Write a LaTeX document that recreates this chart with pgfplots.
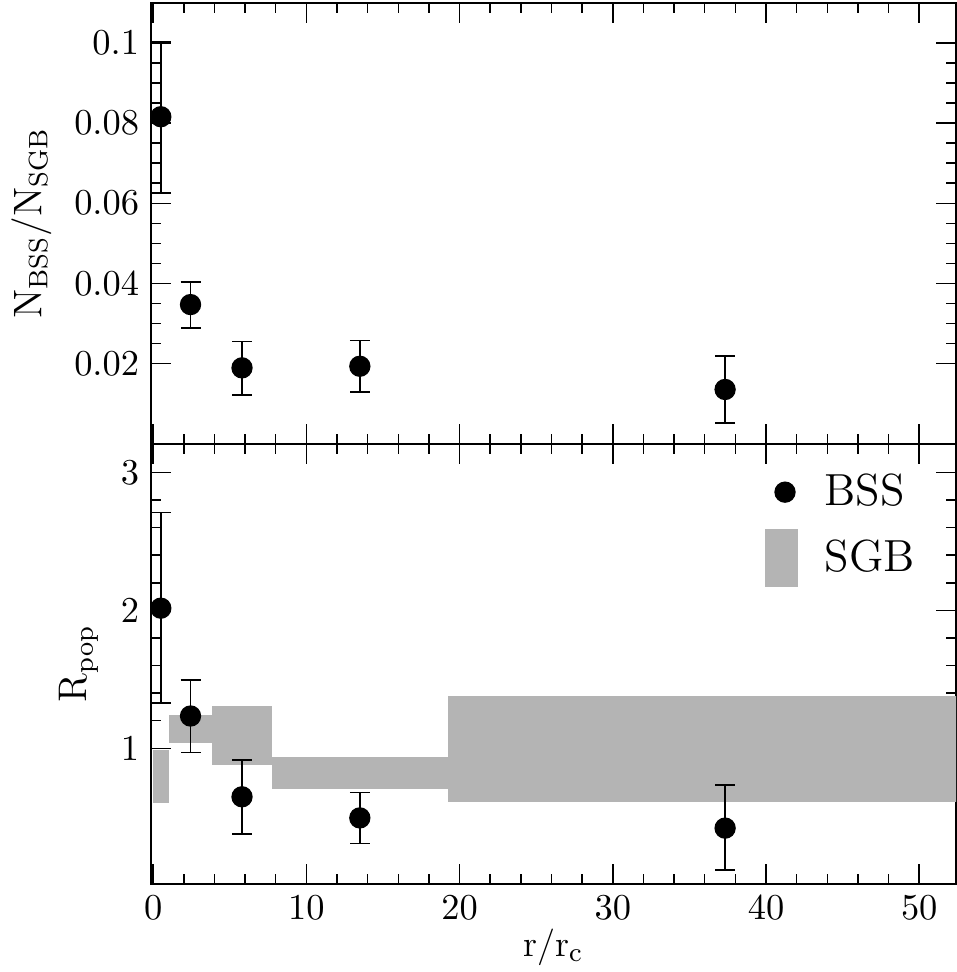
\documentclass[border=0pt]{standalone}
\usepackage{pgfplots}
\usepackage{pgfplotstable}
\pgfplotsset{compat=1.18}
\definecolor{sgb}{RGB}{180,180,180}

% N_BSS/N_SGB per radial bin
\pgfplotstableread{
x     y      ep     em
0.50  0.0816 0.0188 0.0190
2.44  0.0347 0.0056 0.0058
5.80  0.0189 0.0066 0.0068
13.49 0.0193 0.0064 0.0064
37.33 0.0135 0.0083 0.0084
}\ratiodata

% double normalized ratio R_pop for BSS
\pgfplotstableread{
x     y     ep    em
0.50  2.016 0.694 0.686
2.44  1.234 0.263 0.265
5.80  0.648 0.267 0.271
13.49 0.495 0.184 0.185
37.33 0.421 0.311 0.304
}\rpopdata

\pgfplotsset{
  panel/.style={
    width=241.8pt, height=132.3pt, scale only axis,
    xmin=-0.15, xmax=52.4,
    xtick={0,10,20,30,40,50}, minor x tick num=4,
    tick pos=both, tick align=inside,
    major tick length=6pt, minor tick length=3pt,
    axis line style={line width=0.6pt},
    every tick/.style={black, line width=0.45pt},
    tick label style={font=\fontsize{10.5}{12}\selectfont},
    label style={font=\fontsize{12}{14}\selectfont},
  },
  bss/.style={
    only marks, mark=*, mark size=3pt, black,
    error bars/y dir=both, error bars/y explicit,
    error bars/error bar style={line width=0.45pt, black},
    error bars/error mark options={rotate=90, mark size=3pt, line width=0.45pt, black},
  },
}

\begin{document}
\begin{tikzpicture}
\begin{axis}[panel, name=top,
    ymin=0, ymax=0.11,
    ytick={0.02,0.04,0.06,0.08,0.1}, minor y tick num=3,
    yticklabel style={/pgf/number format/fixed, /pgf/number format/precision=2},
    xticklabels={},
    ylabel={$\mathrm{N}_{\mathrm{BSS}}/\mathrm{N}_{\mathrm{SGB}}$},
]
\addplot[bss] table[x=x, y=y, y error plus=ep, y error minus=em] {\ratiodata};
\end{axis}

\begin{axis}[panel, name=bot, at={(top.south west)}, anchor=north west,
    ymin=0.015, ymax=3.21,
    ytick={1,2,3}, minor y tick num=4,
    xlabel={r/r$_{\mathrm{c}}$},
    xlabel style={font=\fontsize{11}{13}\selectfont, yshift=4pt},
    ylabel={R$_{\mathrm{pop}}$},
    legend style={draw=none, fill=none, at={(0.75,0.963)}, anchor=north west,
      font=\fontsize{13.5}{16}\selectfont, row sep=3.5pt},
    legend cell align=left,
]
\addplot[fill=sgb, draw=none, forget plot] coordinates {(0,0.600) (1.03,0.600) (1.03,0.985) (0,0.985)} -- cycle;
\addplot[fill=sgb, draw=none, forget plot] coordinates {(1.03,1.036) (3.83,1.036) (3.83,1.239) (1.03,1.239)} -- cycle;
\addplot[fill=sgb, draw=none, forget plot] coordinates {(3.83,0.882) (7.73,0.882) (7.73,1.309) (3.83,1.309)} -- cycle;
\addplot[fill=sgb, draw=none, forget plot] coordinates {(7.73,0.708) (19.27,0.708) (19.27,0.935) (7.73,0.935)} -- cycle;
\addplot[fill=sgb, draw=none, forget plot] coordinates {(19.27,0.611) (53,0.611) (53,1.379) (19.27,1.379)} -- cycle;
\addplot[bss, legend image code/.code={
    \path[draw=none, fill=none] (0pt,-3pt) rectangle (15.6pt,3pt);
    \fill[black] (5.7pt,0pt) circle (3pt);}]
  table[x=x, y=y, y error plus=ep, y error minus=em] {\rpopdata};
\addlegendentry{BSS}
\addlegendimage{legend image code/.code={
    \path[draw=none, fill=none] (0pt,-8.55pt) rectangle (15.6pt,8.55pt);
    \fill[sgb] (0pt,-8.55pt) rectangle (9.3pt,8.55pt);}}
\addlegendentry{SGB}
\end{axis}

\pgfresetboundingbox
\path[use as bounding box] ([xshift=-45.3pt, yshift=0.9pt]top.north west)
  rectangle ([xshift=0.3pt, yshift=-26.4pt]bot.south east);
\end{tikzpicture}
\end{document}
